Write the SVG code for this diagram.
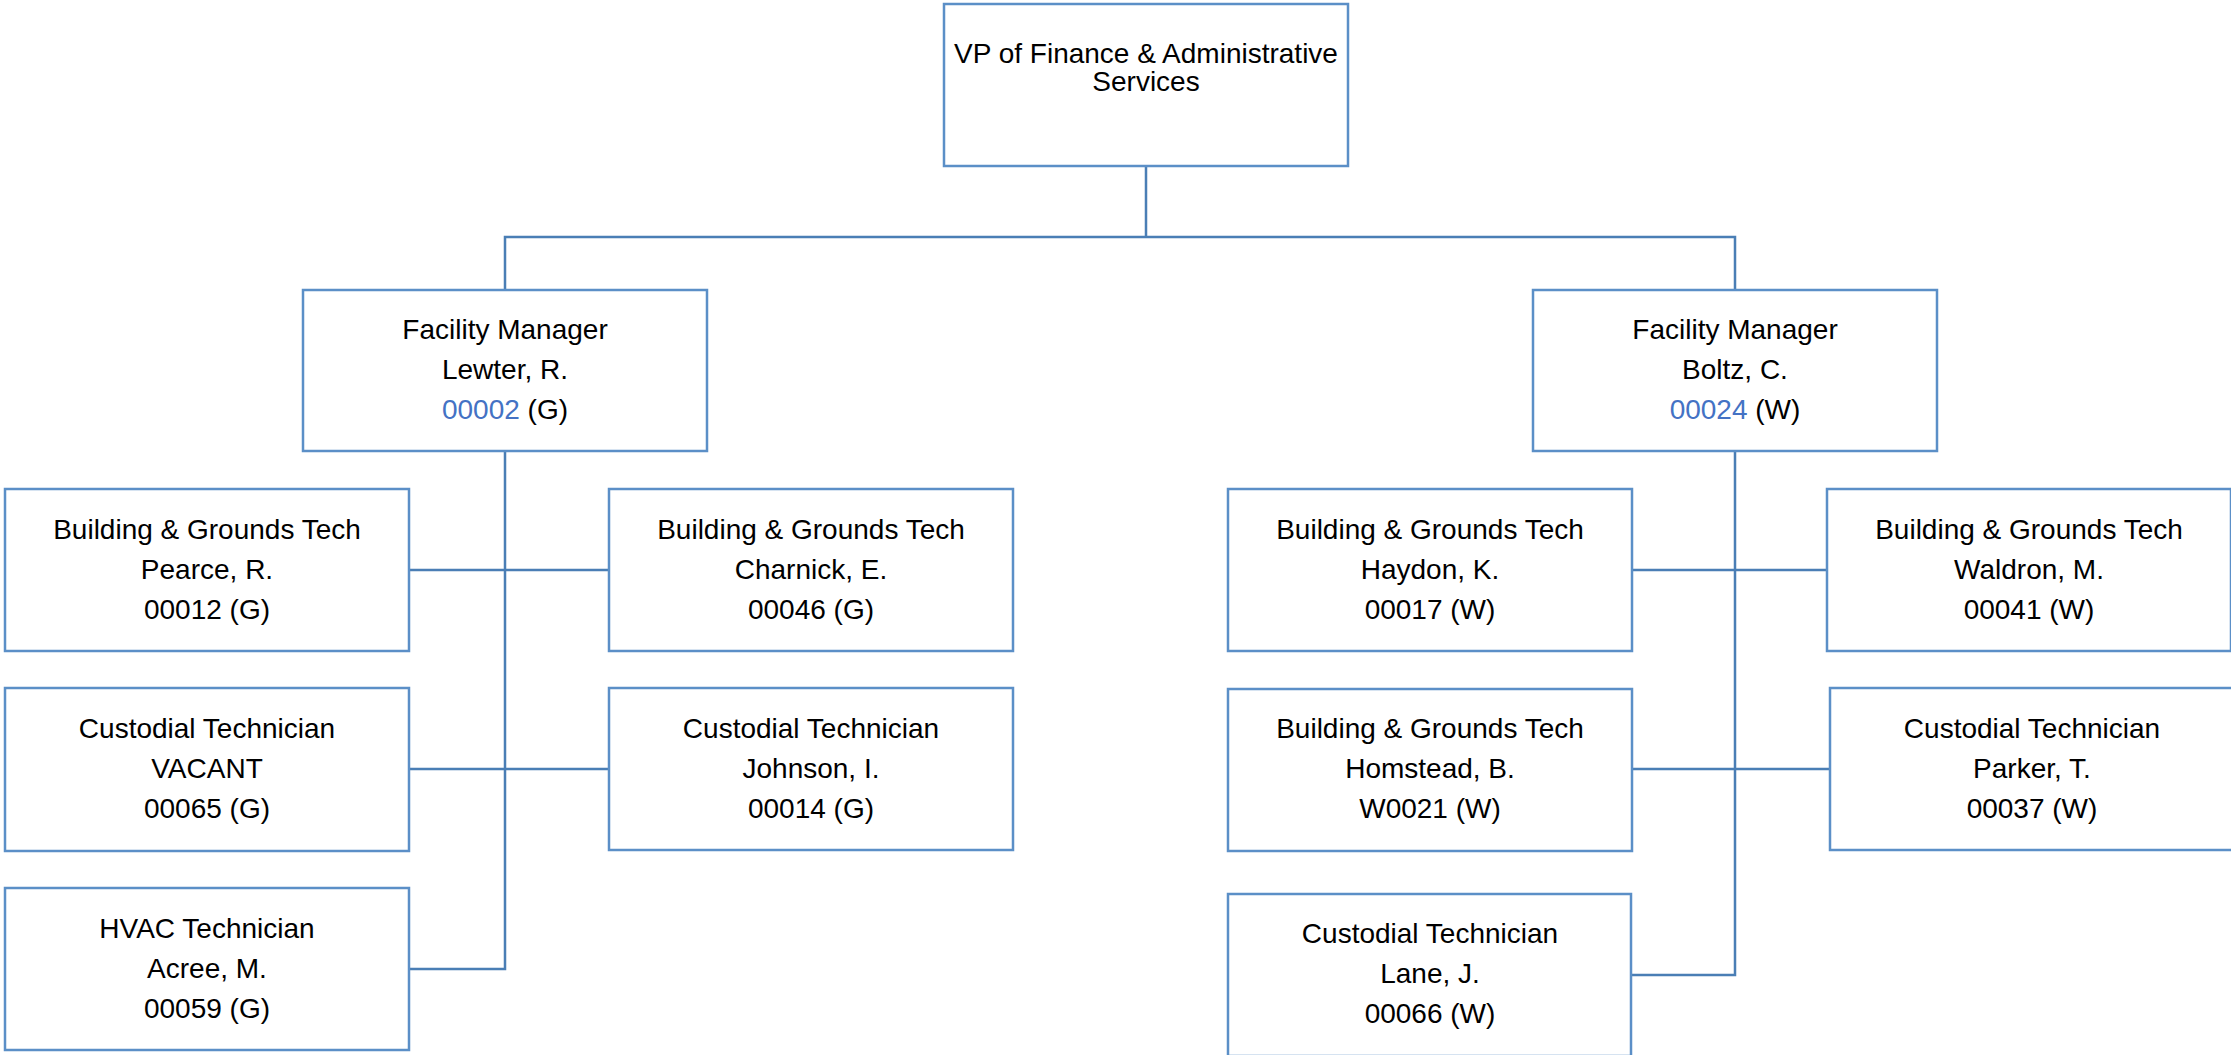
<svg xmlns="http://www.w3.org/2000/svg" width="2231" height="1055" viewBox="0 0 2231 1055">
<style>
.box{fill:#fff;stroke:#5B8FC7;stroke-width:2.5}
.con{fill:none;stroke:#4A7EB5;stroke-width:2.5}
text{font-family:"Liberation Sans",Arial,sans-serif;font-size:28px;fill:#000;text-anchor:middle}
.blue{fill:#4472C4}
</style>
<rect width="2231" height="1055" fill="#fff"/>
<g id="connectors">
<path class="con" d="M1146,166V237M505,290V237H1735V290"/>
<path class="con" d="M505,451V969H409M409,570H609M409,769H609"/>
<path class="con" d="M1735,451V975H1632M1632,570H1827M1632,769H1830"/>
</g>
<g id="vp">
<rect class="box" x="944" y="4" width="404" height="162"/>
<text x="1146" y="63">VP of Finance &amp; Administrative</text>
<text x="1146" y="91">Services</text>
</g>
<g id="fm-lewter">
<rect class="box" x="303" y="290" width="404" height="161"/>
<text x="505" y="339">Facility Manager</text>
<text x="505" y="379">Lewter, R.</text>
<text x="505" y="419"><tspan class="blue">00002</tspan> (G)</text>
</g>
<g id="fm-boltz">
<rect class="box" x="1533" y="290" width="404" height="161"/>
<text x="1735" y="339">Facility Manager</text>
<text x="1735" y="379">Boltz, C.</text>
<text x="1735" y="419"><tspan class="blue">00024</tspan> (W)</text>
</g>
<g id="pearce">
<rect class="box" x="5" y="489" width="404" height="162"/>
<text x="207" y="539">Building &amp; Grounds Tech</text>
<text x="207" y="579">Pearce, R.</text>
<text x="207" y="619">00012 (G)</text>
</g>
<g id="vacant">
<rect class="box" x="5" y="688" width="404" height="163"/>
<text x="207" y="738">Custodial Technician</text>
<text x="207" y="778">VACANT</text>
<text x="207" y="818">00065 (G)</text>
</g>
<g id="acree">
<rect class="box" x="5" y="888" width="404" height="162"/>
<text x="207" y="938">HVAC Technician</text>
<text x="207" y="978">Acree, M.</text>
<text x="207" y="1018">00059 (G)</text>
</g>
<g id="charnick">
<rect class="box" x="609" y="489" width="404" height="162"/>
<text x="811" y="539">Building &amp; Grounds Tech</text>
<text x="811" y="579">Charnick, E.</text>
<text x="811" y="619">00046 (G)</text>
</g>
<g id="johnson">
<rect class="box" x="609" y="688" width="404" height="162"/>
<text x="811" y="738">Custodial Technician</text>
<text x="811" y="778">Johnson, I.</text>
<text x="811" y="818">00014 (G)</text>
</g>
<g id="haydon">
<rect class="box" x="1228" y="489" width="404" height="162"/>
<text x="1430" y="539">Building &amp; Grounds Tech</text>
<text x="1430" y="579">Haydon, K.</text>
<text x="1430" y="619">00017 (W)</text>
</g>
<g id="homstead">
<rect class="box" x="1228" y="689" width="404" height="162"/>
<text x="1430" y="738">Building &amp; Grounds Tech</text>
<text x="1430" y="778">Homstead, B.</text>
<text x="1430" y="818">W0021 (W)</text>
</g>
<g id="lane">
<rect class="box" x="1228" y="894" width="403" height="162"/>
<text x="1430" y="943">Custodial Technician</text>
<text x="1430" y="983">Lane, J.</text>
<text x="1430" y="1023">00066 (W)</text>
</g>
<g id="waldron">
<rect class="box" x="1827" y="489" width="404" height="162"/>
<text x="2029" y="539">Building &amp; Grounds Tech</text>
<text x="2029" y="579">Waldron, M.</text>
<text x="2029" y="619">00041 (W)</text>
</g>
<g id="parker">
<rect class="box" x="1830" y="688" width="404" height="162"/>
<text x="2032" y="738">Custodial Technician</text>
<text x="2032" y="778">Parker, T.</text>
<text x="2032" y="818">00037 (W)</text>
</g>
</svg>
